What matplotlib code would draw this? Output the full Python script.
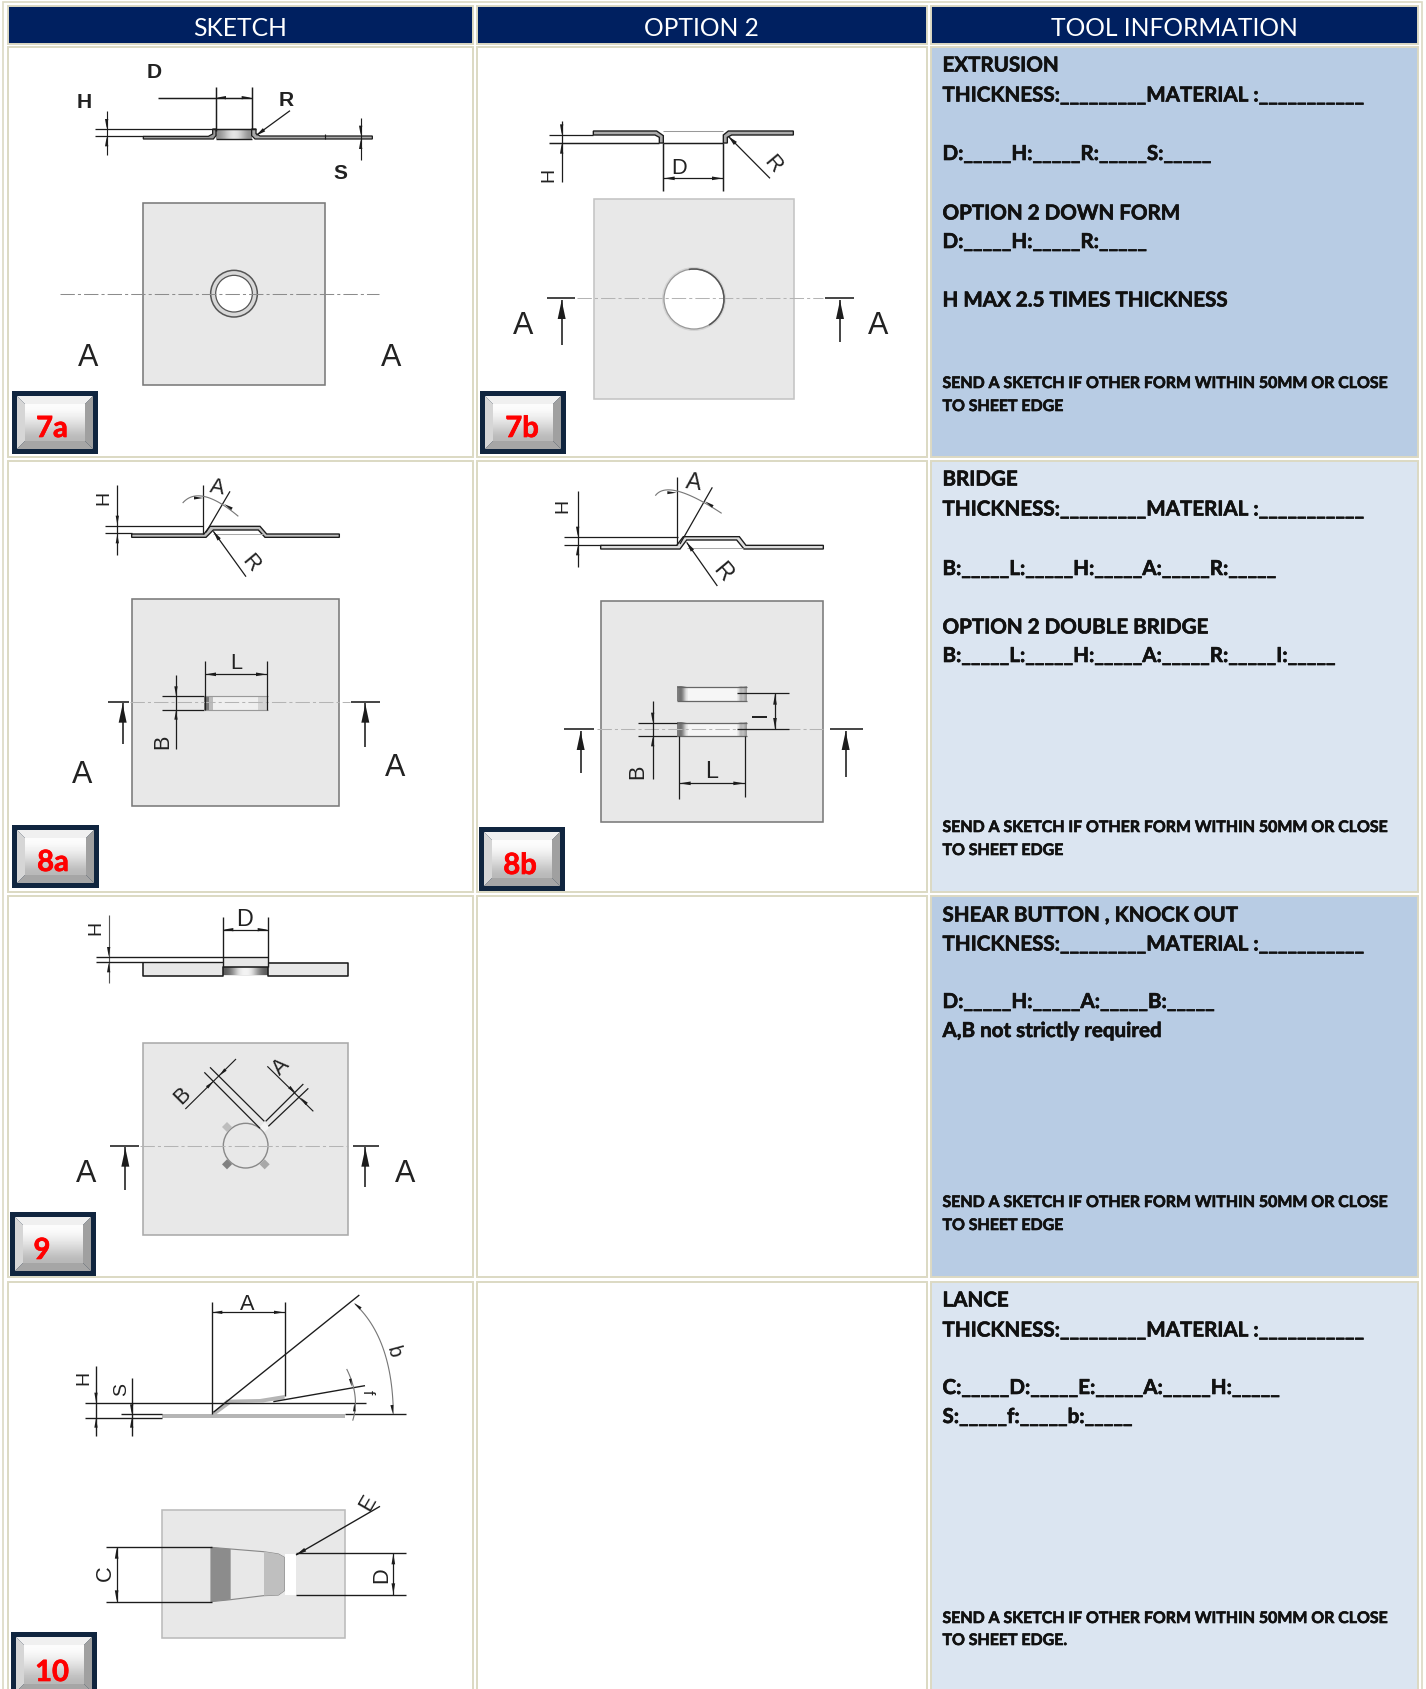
"""Forming-tool order sheet: sketches on the left, tool information on the right."""
import numpy as np
import matplotlib
matplotlib.use("Agg")
import matplotlib.pyplot as plt
import matplotlib.patheffects as pe
from matplotlib.patches import Arc, Circle, Polygon, Rectangle

W, H = 1426, 1690

HEADERS = ["SKETCH", "OPTION 2", "TOOL INFORMATION"]
BADGES = ["7a", "7b", "8a", "8b", "9", "10"]

THICK = "THICKNESS:_________MATERIAL :___________"
SEND = "SEND A SKETCH IF OTHER FORM WITHIN 50MM OR CLOSE"
INFO_1 = ["EXTRUSION", THICK, "D:_____H:_____R:_____S:_____", "OPTION 2 DOWN FORM",
          "D:_____H:_____R:_____", "H MAX 2.5 TIMES THICKNESS"]
INFO_2 = ["BRIDGE", THICK, "B:_____L:_____H:_____A:_____R:_____", "OPTION 2 DOUBLE BRIDGE",
          "B:_____L:_____H:_____A:_____R:_____I:_____"]
INFO_3 = ["SHEAR BUTTON , KNOCK OUT", THICK, "D:_____H:_____A:_____B:_____",
          "A,B not strictly required"]
INFO_4 = ["LANCE", THICK, "C:_____D:_____E:_____A:_____H:_____", "S:_____f:_____b:_____"]
NOTE_1 = [SEND, "TO SHEET EDGE"]
NOTE_4 = [SEND, "TO SHEET EDGE."]

INFO_Y = [[66.5, 96.5, 155, 214.5, 243, 301.5],
          [480.5, 510.5, 570, 628.5, 657],
          [916.5, 945.5, 1003, 1032],
          [1301.5, 1331.5, 1389, 1418]]
NOTE_Y = [[385, 408], [829, 852], [1204, 1227], [1620, 1642]]

NAVY = "#002060"
TAN = "#dcd9c3"
BLUE_D = "#b8cce4"
BLUE_L = "#dbe5f1"
SHEET = "#e8e8e8"
INK = "#1c1c1c"

plt.rcParams["font.family"] = ["Liberation Sans", "DejaVu Sans"]

fig = plt.figure(figsize=(W / 100, H / 100), dpi=100)
ax = fig.add_axes([0, 0, 1, 1])
ax.axis("off")


class Pen:
    # coordinates are the 3x zoom of the crop starting at (ox, oy)
    def __init__(self, ox, oy):
        self.ox, self.oy = ox, oy

    def p(self, x, y):
        return self.ox + x / 3, self.oy + y / 3

    def line(self, *pts, lw=1.3, c=INK, ls="-", z=5):
        xy = np.array([self.p(*q) for q in pts])
        ax.plot(xy[:, 0], xy[:, 1], lw=lw * 0.82, color=c, ls=ls, zorder=z, solid_capstyle="butt")

    def poly(self, *pts, fc="#bbbbbb", ec="none", lw=1.0, z=4):
        ax.add_patch(Polygon([self.p(*q) for q in pts], closed=True, fc=fc, ec=ec, lw=lw * 0.82, zorder=z))

    def box(self, x0, y0, x1, y1, fc=SHEET, ec="#7a7a7a", lw=1.4, z=2):
        self.poly((x0, y0), (x1, y0), (x1, y1), (x0, y1), fc=fc, ec=ec, lw=lw, z=z)

    def head(self, tip, tail, ln=30, wd=10):
        t, b = np.array(tip, float), np.array(tail, float)
        d = (b - t) / np.hypot(*(b - t))
        n = np.array([-d[1], d[0]])
        base = t + d * ln
        self.poly(tuple(t), tuple(base + n * wd / 2), tuple(base - n * wd / 2), fc=INK, z=6)

    def label(self, x, y, s, size=13, rot=0, weight="normal"):
        px, py = self.p(x, y)
        if size < 20:
            size *= 1.12
        ax.text(px, py + 1.5, s, fontsize=size, rotation=rot, fontweight=weight, ha="center", va="center",
                color="#222222", rotation_mode="anchor", zorder=7)

    def arc(self, *pts, lw=1.0, c="#777777"):
        # smooth curve through three points
        a, b, d = [np.array(q, float) for q in pts]
        t = np.linspace(0, 1, 30)[:, None]
        ctrl = 2 * b - (a + d) / 2
        xy = (1 - t) ** 2 * a + 2 * t * (1 - t) * ctrl + t ** 2 * d
        self.line(*[tuple(q) for q in xy], lw=lw, c=c)

    def center(self, x0, x1, y, c="#b4b4b4"):
        self.line((x0, y), (x1, y), lw=0.9, c=c, ls=(0, (14, 3, 3, 3)), z=3)

    def tee(self, x0, x1, y, ax_x, tail):
        self.line((x0, y), (x1, y), lw=1.4)
        self.line((ax_x, y + 4), (ax_x, tail), lw=1.4)
        self.head((ax_x, y + 6), (ax_x, tail), ln=56, wd=24)


def gradient(x0, y0, x1, y1, vals, horizontal=False, z=3):
    g = np.array(vals, float)
    g = g[None, :] if horizontal else g[:, None]
    ax.imshow(g, extent=(x0, x1, y1, y0), aspect="auto", cmap="gray", vmin=0, vmax=1,
              interpolation="bicubic", zorder=z)


def badge(x0, y0, x1, y1, s, tx, ty):
    ax.add_patch(Rectangle((x0, y0), x1 - x0, y1 - y0, fc="#10253f", ec="none", zorder=8))
    a, b, c, d = x0 + 5, y0 + 5, x1 - 5, y1 - 5
    e = 8
    ax.add_patch(Polygon([(a, b), (c, b), (c - e, b + e), (a + e, b + e)], fc="#f0f0f0", zorder=9))
    ax.add_patch(Polygon([(a, b), (a + e, b + e), (a + e, d - e), (a, d)], fc="#d6d6d6", zorder=9))
    ax.add_patch(Polygon([(c, b), (c - e, b + e), (c - e, d - e), (c, d)], fc="#a0a0a0", zorder=9))
    ax.add_patch(Polygon([(a, d), (a + e, d - e), (c - e, d - e), (c, d)], fc="#a6a6a6", zorder=9))
    gradient(a + e, b + e, c - e, d - e, [0.99, 0.95, 0.88, 0.8, 0.72], z=9)
    ax.text(tx, ty + 2, s, fontsize=21, fontweight="bold", family="Lato", color="#ff0000",
            ha="center", va="center", zorder=10,
            path_effects=[pe.withStroke(linewidth=0.5, foreground="#ff0000")])


# ---- table ----
COLS = [(8, 472), (477, 926), (931, 1417)]
ROWS = [(48.5, 457), (462, 892), (897, 1277), (1283, 1695)]

ax.add_patch(Rectangle((2.5, 2.5), 1419, 1700, fc="white", ec=TAN, lw=1.2, zorder=0))
for (x0, x1), t in zip(COLS, HEADERS):
    ax.add_patch(Rectangle((x0 - 0.5, 6.5), x1 - x0 + 1, 38, fc=NAVY, ec=TAN, lw=1.4, zorder=1))
    ax.text((x0 + x1) / 2, 28, t, color="white", fontsize=17.7, family="Lato", ha="center",
            va="center", zorder=2)
for i, (y0, y1) in enumerate(ROWS):
    for j, (x0, x1) in enumerate(COLS):
        fc = "white" if j < 2 else (BLUE_D if i % 2 == 0 else BLUE_L)
        ax.add_patch(Rectangle((x0 - 0.5, y0 - 0.5), x1 - x0 + 1, y1 - y0 + 1, fc=fc, ec=TAN, lw=1.4, zorder=1))

# ---- tool information text ----
heavy = [pe.withStroke(linewidth=0.45, foreground="#111111")]
for lines, ys in zip([INFO_1, INFO_2, INFO_3, INFO_4], INFO_Y):
    for s, y in zip(lines, ys):
        ax.text(942.5, y, s, fontsize=14.8, fontweight="bold", family="Lato", color="#111111",
                ha="left", va="center", zorder=3, path_effects=heavy)
for lines, ys in zip([NOTE_1, NOTE_1, NOTE_1, NOTE_4], NOTE_Y):
    for s, y in zip(lines, ys):
        ax.text(942.5, y, s, fontsize=11.45, fontweight="bold", family="Lato", color="#111111",
                ha="left", va="center", zorder=3, path_effects=heavy)

# ---- 7a ----
s = Pen(0, 0)
for x, y, t in [(462, 212, "D"), (252, 303, "H"), (860, 298, "R"), (1020, 517, "S")]:
    s.label(x, y, t, size=13.5, weight="bold")
s.line((475, 296), (755, 296))
s.line((648, 263), (648, 395))
s.line((755, 263), (755, 390))
s.head((650, 296), (700, 296), ln=28, wd=10)
s.head((753, 296), (700, 296), ln=28, wd=10)
s.line((285, 390), (640, 390), lw=1.1)
s.line((285, 412), (430, 412), lw=1.1)
s.poly((430, 412), (625, 412), (638, 405), (638, 390), (648, 390), (648, 410), (640, 420), (430, 420),
       fc="#999999", ec=INK, lw=1.1)
s.poly((755, 390), (768, 390), (768, 404), (780, 411), (1117, 411), (1117, 420), (765, 420), (755, 410),
       fc="#aaaaaa", ec=INK, lw=1.1)
s.line((975, 405), (975, 420), lw=1.0)
gradient(*s.p(648, 390), *s.p(755, 420), [0.55, 0.78, 0.95, 0.8, 0.55], horizontal=True)
s.line((640, 390), (768, 390), lw=1.3)
s.line((648, 420), (755, 420), lw=1.2)
s.line((870, 335), (770, 408), lw=1.1)
s.head((768, 410), (870, 335), ln=30, wd=12)
s.line((320, 335), (320, 467), lw=1.0)
s.head((320, 388), (320, 350), ln=28, wd=10)
s.head((320, 414), (320, 450), ln=28, wd=10)
s.line((1082, 358), (1082, 482), lw=1.0)
s.head((1082, 408), (1082, 370), ln=28, wd=10)
s.head((1082, 422), (1082, 460), ln=28, wd=10)
s.box(430, 612, 975, 1157)
ax.add_patch(Circle(s.p(702, 884), 70 / 3, fc="#d8d8d8", ec="#555555", lw=1.1, zorder=3))
ax.add_patch(Circle(s.p(702, 884), 55 / 3, fc="white", ec="#555555", lw=0.9, zorder=3))
s.center(180, 1137, 884, c="#8c8c8c")
s.label(265, 1070, "A", size=22)
s.label(1172, 1068, "A", size=22)

# ---- 7b ----
s = Pen(470, 0)
s.poly((370, 396), (560, 396), (580, 410), (580, 432), (568, 432), (568, 415), (555, 408), (370, 408),
       fc="#aaaaaa", ec=INK, lw=1.2)
s.poly((970, 396), (775, 396), (760, 408), (760, 432), (772, 432), (772, 415), (785, 408), (970, 408),
       fc="#aaaaaa", ec=INK, lw=1.2)
s.line((238, 408), (370, 408), lw=1.1)
s.line((238, 432), (568, 432), lw=1.3)
s.line((580, 432), (760, 432), lw=1.3)
s.line((580, 397), (760, 397), lw=0.9, c="#999999")
s.line((275, 365), (275, 550), lw=1.1)
s.head((275, 406), (275, 365), ln=30, wd=10)
s.head((275, 434), (275, 480), ln=30, wd=10)
s.label(237, 520, "H", size=12.5, rot=90)
s.line((580, 432), (580, 575))
s.line((760, 432), (760, 575))
s.line((580, 538), (760, 538), lw=1.1)
s.head((582, 538), (670, 538), ln=32, wd=11)
s.head((758, 538), (670, 538), ln=32, wd=11)
s.label(627, 500, "D", size=14)
s.line((900, 538), (775, 412), lw=1.1)
s.head((775, 412), (900, 538), ln=30, wd=13)
s.label(908, 490, "R", size=14, rot=-50)
s.box(372, 600, 972, 1200, ec="#c4c4c4")
ax.add_patch(Circle(s.p(672, 900), 96 / 3, fc="#d4d4d4", ec="none", zorder=3))
ax.add_patch(Circle(s.p(672, 900), 90 / 3, fc="white", ec="#999999", lw=0.9, zorder=3))
ax.add_patch(Arc(s.p(672, 900), 180 / 3, 180 / 3, theta1=-100, theta2=60, ec="#555555", lw=1.1, zorder=4))
s.center(320, 1060, 898)
s.tee(232, 315, 898, 275, 1037)
s.tee(1065, 1152, 898, 1110, 1030)
s.label(158, 975, "A", size=22)
s.label(1225, 975, "A", size=22)
badge(480, 392, 566, 455, BADGES[1], 522, 428)

# ---- 8a ----
s = Pen(0, 455)
s.label(312, 123, "H", size=12.5, rot=90)
s.line((352, 92), (352, 302), lw=1.1)
s.head((352, 213), (352, 170), ln=28, wd=10)
s.head((352, 240), (352, 285), ln=28, wd=10)
s.line((315, 215), (610, 215), lw=1.1)
s.line((315, 238), (395, 238), lw=1.1)
s.poly((395, 240), (612, 240), (630, 217), (780, 217), (800, 240), (1018, 240), (1018, 250), (795, 250),
       (775, 228), (640, 228), (618, 250), (395, 250), fc="#c0c0c0", ec=INK, lw=1.2)
s.line((640, 240), (790, 240), lw=0.9, c="#aaaaaa")
s.line((610, 92), (610, 240), lw=1.1)
s.line((690, 112), (618, 235), lw=1.1)
s.arc((548, 147), (615, 128), (715, 187))
s.head((610, 132), (570, 132), ln=28, wd=9)
s.head((672, 150), (705, 170), ln=28, wd=9)
s.label(650, 95, "A", size=14, rot=-10)
s.line((738, 368), (640, 232), lw=1.1)
s.head((640, 232), (738, 368), ln=30, wd=12)
s.label(752, 322, "R", size=14, rot=-50)
s.box(395, 435, 1018, 1055)
s.box(612, 727, 805, 767, fc="#efefef", ec="none", z=3)
s.box(612, 727, 628, 767, fc="#777777", ec="none", z=3)
s.box(628, 727, 640, 767, fc="#bbbbbb", ec="none", z=3)
s.box(775, 727, 805, 767, fc="#d4d4d4", ec="none", z=3)
s.line((487, 727), (612, 727), lw=1.1)
s.line((487, 767), (612, 767), lw=1.1)
s.line((612, 727), (805, 727), lw=1.0, c="#999999")
s.line((612, 767), (805, 767), lw=1.0, c="#999999")
s.line((614, 622), (614, 767), lw=1.1)
s.line((802, 622), (802, 767), lw=1.1)
s.line((614, 661), (802, 661), lw=1.1)
s.head((616, 661), (700, 661), ln=32, wd=11)
s.head((800, 661), (700, 661), ln=32, wd=11)
s.label(708, 622, "L", size=14)
s.line((528, 662), (528, 885), lw=1.1)
s.head((528, 725), (528, 680), ln=28, wd=10)
s.head((528, 769), (528, 815), ln=28, wd=10)
s.label(488, 855, "B", size=14, rot=90)
s.center(390, 1050, 744)
s.tee(325, 388, 744, 368, 870)
s.tee(1053, 1140, 744, 1096, 878)
s.label(247, 955, "A", size=22)
s.label(1185, 935, "A", size=22)

# ---- 8b ----
s = Pen(470, 455)
s.label(280, 148, "H", size=12.5, rot=90)
s.line((323, 112), (323, 338), lw=1.1)
s.head((323, 246), (323, 205), ln=28, wd=10)
s.head((323, 276), (323, 320), ln=28, wd=10)
s.line((282, 248), (625, 248), lw=1.1)
s.line((282, 274), (392, 274), lw=1.1)
s.poly((392, 274), (620, 274), (640, 248), (808, 248), (828, 274), (1060, 274), (1060, 285), (822, 285),
       (800, 258), (650, 258), (630, 285), (392, 285), fc="#dddddd", ec=INK, lw=1.2)
s.line((650, 283), (820, 283), lw=0.9, c="#aaaaaa")
s.line((620, 70), (620, 274), lw=1.1)
s.line((727, 100), (630, 270), lw=1.1)
s.arc((556, 125), (625, 112), (755, 178))
s.head((620, 116), (580, 116), ln=28, wd=9)
s.head((705, 142), (745, 168), ln=28, wd=9)
s.label(672, 78, "A", size=15, rot=-8)
s.line((742, 396), (650, 265), lw=1.1)
s.head((650, 265), (742, 396), ln=30, wd=12)
s.label(758, 348, "R", size=15, rot=-50)
s.box(392, 440, 1060, 1105)
for y0, y1 in [(698, 742), (806, 847)]:
    s.box(622, y0, 830, y1, fc="#f6f6f6", ec="none", z=3)
    gradient(*s.p(622, y0), *s.p(655, y1), [0.5, 0.4, 0.65, 0.93], horizontal=True)
    gradient(*s.p(800, y0), *s.p(830, y1), [0.93, 0.65, 0.8, 0.6], horizontal=True)
    s.line((622, y0), (830, y0), lw=1.1, c="#666666")
    s.line((622, y1), (830, y1), lw=1.1, c="#666666")
s.line((800, 718), (958, 718), lw=1.1)
s.line((800, 826), (958, 826), lw=1.1)
s.line((915, 718), (915, 826), lw=1.1)
s.head((915, 720), (915, 770), ln=32, wd=11)
s.head((915, 824), (915, 770), ln=32, wd=11)
s.label(872, 774, "I", size=14, rot=90)
s.line((505, 806), (622, 806), lw=1.1)
s.line((505, 847), (622, 847), lw=1.1)
s.line((548, 740), (548, 975), lw=1.1)
s.head((548, 804), (548, 765), ln=28, wd=10)
s.head((548, 849), (548, 895), ln=28, wd=10)
s.label(503, 945, "B", size=14, rot=90)
s.line((626, 847), (626, 1035), lw=1.1)
s.line((826, 847), (826, 1028), lw=1.1)
s.line((626, 988), (826, 988), lw=1.1)
s.head((628, 988), (720, 988), ln=34, wd=11)
s.head((824, 988), (720, 988), ln=34, wd=11)
s.label(725, 945, "L", size=15)
s.center(380, 1060, 826)
s.tee(282, 372, 826, 332, 958)
s.tee(1080, 1178, 826, 1127, 968)

# ---- 9 ----
s = Pen(0, 890)
s.label(287, 108, "H", size=12.5, rot=90)
s.line((326, 78), (326, 282), lw=1.0, c="#555555")
s.head((326, 202), (326, 165), ln=28, wd=10)
s.head((326, 222), (326, 260), ln=28, wd=10)
s.line((288, 204), (805, 204), lw=1.2)
s.line((288, 220), (668, 220), lw=1.2)
s.poly((430, 221), (668, 221), (668, 204), (805, 204), (805, 221), (1043, 221), (1043, 260), (430, 260),
       fc=SHEET, ec="none", z=2)
s.line((805, 221), (1043, 221), (1043, 260), (805, 260), (805, 235), (668, 235), (668, 260), (430, 260),
       (430, 221), lw=1.4)
s.line((668, 84), (668, 235), lw=1.2)
s.line((805, 84), (805, 235), lw=1.2)
gradient(*s.p(670, 236), *s.p(803, 259), [0.35, 0.55, 0.92, 0.97, 0.92, 0.55, 0.35], horizontal=True)
s.line((668, 122), (805, 122), lw=1.1)
s.head((670, 122), (735, 122), ln=30, wd=10)
s.head((803, 122), (735, 122), ln=30, wd=10)
s.label(733, 84, "D", size=15)
s.box(430, 462, 1045, 1037, ec="#aaaaaa")
ax.add_patch(Circle(s.p(737, 770), 67 / 3, fc=SHEET, ec="#888888", lw=1.0, zorder=3))
for cx, cy, fc in [(681, 714, "#bdbdbd"), (794, 714, "#f4f4f4"), (681, 826, "#808080"), (794, 826, "#a8a8a8")]:
    s.poly((cx - 15, cy), (cx, cy - 15), (cx + 15, cy), (cx, cy + 15), fc=fc, z=3)
s.line((630, 535), (793, 697), lw=1.1)
s.line((613, 550), (780, 718), lw=1.1)
s.line((910, 585), (797, 697), lw=1.1)
s.line((925, 598), (805, 712), lw=1.1)
s.line((556, 660), (708, 510), lw=1.0)
s.head((640, 577), (610, 606), ln=26, wd=10)
s.head((658, 560), (688, 530), ln=26, wd=10)
s.line((802, 532), (940, 667), lw=1.0)
s.head((887, 612), (860, 587), ln=26, wd=10)
s.head((902, 626), (925, 650), ln=26, wd=10)
s.label(548, 613, "B", size=14, rot=45)
s.label(843, 525, "A", size=14, rot=45)
s.center(420, 1045, 771)
s.tee(330, 416, 771, 376, 903)
s.tee(1060, 1138, 771, 1096, 895)
s.label(258, 848, "A", size=22)
s.label(1215, 848, "A", size=22)

# ---- 10 ----
s = Pen(0, 1280)
s.line((635, 68), (635, 405), lw=1.2)
s.line((854, 68), (854, 350), lw=1.2)
s.line((635, 100), (854, 100), lw=1.1)
s.head((637, 100), (740, 100), ln=30, wd=10)
s.head((852, 100), (740, 100), ln=30, wd=10)
s.label(741, 68, "A", size=14)
s.line((288, 260), (288, 472), lw=1.2)
s.head((288, 369), (288, 335), ln=28, wd=10)
s.head((288, 418), (288, 455), ln=28, wd=10)
s.line((255, 371), (1098, 371), lw=1.2)
s.line((255, 416), (485, 416), lw=1.2)
s.line((395, 298), (395, 472), lw=1.2)
s.head((395, 404), (395, 365), ln=28, wd=10)
s.head((395, 418), (395, 455), ln=28, wd=10)
s.line((362, 406), (485, 406), lw=1.2)
s.label(252, 288, "H", size=12.5, rot=90)
s.label(365, 325, "S", size=12.5, rot=90)
s.box(485, 406, 1035, 416, fc="#b5b5b5", ec="none", z=4)
s.poly((635, 405), (680, 362), (780, 360), (854, 348), (854, 360), (790, 370), (695, 372), (650, 405),
       fc="#b5b5b5", z=4)
s.line((1078, 48), (640, 400), lw=1.2)
s.line((820, 368), (1095, 320), lw=1.2)
s.line((1035, 406), (1217, 406), lw=1.2)
s.arc((1065, 75), (1150, 210), (1180, 405))
s.arc((1040, 270), (1065, 350), (1058, 425))
s.head((1062, 72), (1090, 95), ln=26, wd=9)
s.head((1178, 404), (1175, 370), ln=26, wd=9)
s.head((1055, 323), (1050, 295), ln=24, wd=8)
s.head((1063, 373), (1063, 400), ln=24, wd=8)
s.label(1180, 212, "b", size=13, rot=-75)
s.label(1102, 333, "f", size=10, rot=-90)
s.box(485, 693, 1035, 1078, ec="#bbbbbb")
s.poly((633, 805), (692, 810), (790, 818), (835, 825), (853, 835), (853, 935), (835, 948), (790, 950),
       (692, 962), (633, 968), fc=SHEET, ec="#888888", lw=1.0, z=3)
s.poly((633, 805), (692, 810), (692, 962), (633, 968), fc="#8c8c8c", z=3)
s.poly((792, 818), (835, 825), (853, 835), (853, 935), (835, 948), (792, 950), fc="#bfbfbf", z=3)
s.box(855, 825, 887, 947, fc="white", ec="none", z=3)
s.line((318, 805), (635, 805), lw=1.2)
s.line((318, 968), (635, 968), lw=1.2)
s.line((350, 805), (350, 968), lw=1.1)
s.head((350, 807), (350, 880), ln=32, wd=11)
s.head((350, 966), (350, 880), ln=32, wd=11)
s.label(315, 875, "C", size=14, rot=90)
s.line((1140, 682), (888, 828), lw=1.2)
s.head((888, 828), (1140, 682), ln=32, wd=12)
s.label(1105, 665, "E", size=14, rot=60)
s.line((887, 822), (1217, 822), lw=1.2)
s.line((887, 947), (1217, 947), lw=1.2)
s.line((1180, 822), (1180, 947), lw=1.1)
s.head((1180, 824), (1180, 880), ln=32, wd=11)
s.head((1180, 945), (1180, 880), ln=32, wd=11)
s.label(1145, 880, "D", size=14, rot=90)

# ---- badges in the first column ----
badge(12, 392, 98, 455, BADGES[0], 52, 428)
badge(12, 826, 99, 889, BADGES[2], 53, 862)
badge(479, 828, 565, 892, BADGES[3], 520, 865)
badge(10, 1213, 96, 1277, BADGES[4], 42, 1250)
badge(11, 1633, 97, 1698, BADGES[5], 52, 1672)

ax.set_xlim(0, W)
ax.set_ylim(H, 0)
fig.savefig("out.png", dpi=100, facecolor="white")
